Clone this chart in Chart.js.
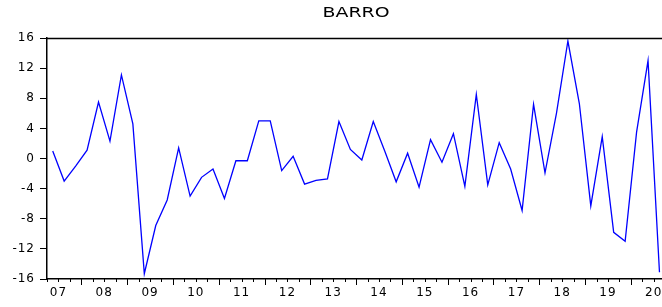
<!DOCTYPE html>
<html>
<head>
<meta charset="utf-8">
<script src="https://cdn.jsdelivr.net/npm/chart.js@4"></script>
<style>
  html, body { margin: 0; padding: 0; background: #fff; overflow: hidden; }
  #wrap { width: 662px; height: 307px; }
</style>
</head>
<body>
<div id="wrap"><canvas id="barroChart" width="662" height="307"></canvas></div>
<script>
// BARRO, quarterly, 2007Q2 - 2020Q3
const startYear = 2007;
const startQuarter = 2;
const barro = [
  1.0, -3.0, -1.0,            // 2007
  1.1, 7.5, 2.3, 11.1,        // 2008
  4.6, -15.3, -8.9, -5.5,     // 2009
  1.4, -5.0, -2.5, -1.4,      // 2010
  -5.3, -0.3, -0.3, 5.0,      // 2011
  5.0, -1.6, 0.3, -3.4,       // 2012
  -2.9, -2.7, 4.9, 1.2,       // 2013
  -0.2, 4.9, 1.0, -3.1,       // 2014
  0.7, -3.8, 2.5, -0.5,       // 2015
  3.3, -3.7, 8.5, -3.5,       // 2016
  2.1, -1.4, -6.9, 7.2,       // 2017
  -1.9, 6.0, 15.6, 7.3,       // 2018
  -6.3, 2.9, -9.8, -11.0,     // 2019
  3.5, 13.0, -15.1            // 2020
];
const yearLabels = ['07', '08', '09', '10', '11', '12', '13', '14', '15', '16', '17', '18', '19', '20'];
const yTicks = [-16, -12, -8, -4, 0, 4, 8, 12, 16];

// quarter names for each value
const quarters = [];
for (let i = 0; i < barro.length; i++) {
  const q = startQuarter - 1 + i;
  quarters.push((startYear + Math.floor(q / 4)) + 'Q' + (q % 4 + 1));
}

// a quarter is plotted in the middle of its period
function quarterPos(label) {
  const parts = label.split('Q').map(Number);
  return parts[0] + (parts[1] - 0.5) / 4;
}

const xMin = startYear + (startQuarter - 1) / 4;  // left edge of frame
const frameEnd = 2021 - 0.25;                     // right edge of frame (2020Q3 end)
const xMax = 2020.68;                             // picture is cut off here

const points = quarters.map((q, i) => ({ x: quarterPos(q), y: barro[i] }));

// Frame line on top, quarter/year tick marks under the x axis, title
const framePlugin = {
  id: 'frame',
  beforeDraw(chart) {
    chart.ctx.letterSpacing = '1px';
  },
  afterDraw(chart) {
    const ctx = chart.ctx;
    const area = chart.chartArea;
    const xs = chart.scales.x;
    ctx.save();
    ctx.letterSpacing = '0px';
    ctx.strokeStyle = '#000';
    ctx.lineWidth = 1.5;
    ctx.beginPath();
    ctx.moveTo(area.left, area.top + 0.5);
    ctx.lineTo(area.right, area.top + 0.5);
    ctx.stroke();
    // tick marks: short at each quarter, long at each year
    ctx.lineWidth = 1;
    ctx.beginPath();
    for (let v = xMin; v <= xMax; v += 0.25) {
      const px = Math.round(xs.getPixelForValue(v)) + 0.5;
      const len = Math.abs(v - Math.round(v)) < 1e-6 ? 6 : 3;
      ctx.moveTo(px, area.bottom);
      ctx.lineTo(px, area.bottom + len);
    }
    ctx.stroke();

    // title, centred over the frame
    const cx = (xs.getPixelForValue(xMin) + xs.getPixelForValue(frameEnd)) / 2;
    ctx.fillStyle = '#000';
    ctx.font = '14px "DejaVu Sans"';
    ctx.textAlign = 'center';
    ctx.textBaseline = 'alphabetic';
    ctx.translate(cx, 17);
    ctx.scale(1.35, 1);
    ctx.fillText('BARRO', 0, 0);
    ctx.restore();
  }
};

new Chart(document.getElementById('barroChart').getContext('2d'), {
  type: 'line',
  data: {
    datasets: [{
      label: 'BARRO',
      data: points,
      borderColor: '#0000ff',
      borderWidth: 1.3,
      pointRadius: 0,
      tension: 0,
      fill: false
    }]
  },
  options: {
    responsive: false,
    animation: false,
    layout: { padding: { top: 38, left: 0, right: 0, bottom: 0 } },
    plugins: {
      legend: { display: false },
      title: { display: false },
      tooltip: { enabled: false }
    },
    scales: {
      x: {
        type: 'linear',
        min: xMin,
        max: xMax,
        afterBuildTicks: (scale) => {
          scale.ticks = yearLabels.map((_, i) => ({ value: startYear + i + 0.5 }));
        },
        afterFit: (scale) => {
          scale.height = 28;
          scale.paddingLeft = 0;
          scale.paddingRight = 0;
        },
        grid: { display: true, drawOnChartArea: false, drawTicks: false },
        border: { display: true, color: '#000', width: 1.5 },
        ticks: {
          autoSkip: false,
          maxRotation: 0,
          padding: 7,
          color: '#000',
          font: { family: 'DejaVu Sans', size: 12 },
          callback: (v, i) => yearLabels[i]
        }
      },
      y: {
        min: -16,
        max: 16,
        afterBuildTicks: (scale) => {
          scale.ticks = yTicks.map(v => ({ value: v }));
        },
        afterFit: (scale) => { scale.width = 47; },
        grid: { drawOnChartArea: false, drawTicks: true, tickLength: 7, color: '#000' },
        border: { display: true, color: '#000', width: 1.5 },
        ticks: {
          padding: 5,
          color: '#000',
          font: { family: 'DejaVu Sans', size: 12 }
        }
      }
    }
  },
  plugins: [framePlugin]
});
</script>
</body>
</html>
